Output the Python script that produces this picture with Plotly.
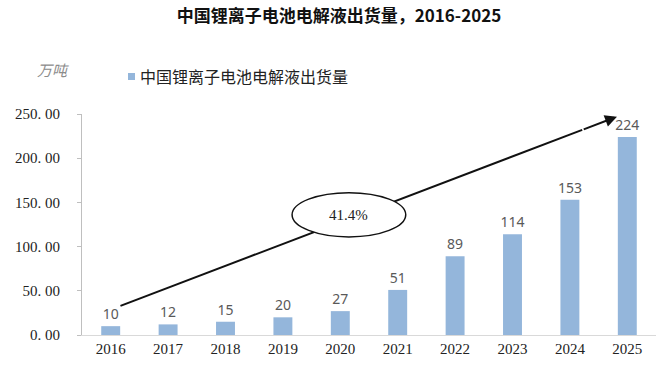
import plotly.graph_objects as go

years = ["2016", "2017", "2018", "2019", "2020", "2021", "2022", "2023", "2024", "2025"]
shipments = [10, 12, 15, 20, 27, 51, 89, 114, 153, 224]
series_name = "中国锂离子电池电解液出货量"
unit_label = "万吨"
title_text = "中国锂离子电池电解液出货量，2016-2025"
ytick_vals = [0, 50, 100, 150, 200, 250]
ytick_text = ["0. 00", "50. 00", "100. 00", "150. 00", "200. 00", "250. 00"]
cagr_text = "41.4%"

BAR_COLOR = "#94B6DB"

# figure geometry (page body margin removed via post_script)
W, H = 663, 365
ML, MR, MT, MB = 82, 7, 114, 30
PW, PH = W - ML - MR, H - MT - MB


def px_x(x):
    return (x - ML) / PW


def px_y(y):
    return (H - MB - y) / PH


fig = go.Figure()
fig.add_trace(go.Bar(
    x=years, y=shipments, name=series_name,
    marker=dict(color=BAR_COLOR, line=dict(width=0)),
    width=0.33,
    text=[str(v) for v in shipments], textposition="outside", constraintext="none",
    textfont=dict(family="Noto Sans, DejaVu Sans, sans-serif", size=14, color="#595959"),
    cliponaxis=False, showlegend=False,
))

fig.update_layout(
    width=W, height=H,
    margin=dict(l=ML, r=MR, t=MT, b=MB, autoexpand=False),
    paper_bgcolor="white", plot_bgcolor="white",
    showlegend=False,
    title=dict(text="<b>" + title_text + "</b>", x=339 / W, xref="container",
               xanchor="center", y=1 - 16.5 / H, yref="container", yanchor="middle",
               font=dict(family="Noto Sans CJK SC, sans-serif", size=17, color="#111111")),
)

fig.update_xaxes(
    type="category", showline=True, linecolor="#D9D9D9", linewidth=1,
    ticks="", showgrid=False, automargin=False,
    tickfont=dict(family="Liberation Serif, DejaVu Serif, serif", size=15, color="#222222"),
)
fig.update_yaxes(
    range=[0, 250], tickvals=ytick_vals, ticktext=ytick_text,
    showline=True, linecolor="#BFBFBF", linewidth=1,
    ticks="outside", ticklen=4, tickcolor="#BFBFBF",
    ticklabelstandoff=14,
    showgrid=False, zeroline=False, automargin=False,
    tickfont=dict(family="Liberation Serif, DejaVu Serif, serif", size=15, color="#222222"),
)

# unit label
fig.add_annotation(text="<i>" + unit_label + "</i>", xref="paper", yref="paper",
                   x=px_x(53), y=px_y(69), showarrow=False, xanchor="center", yanchor="middle",
                   font=dict(family="Noto Sans CJK SC, sans-serif", size=15, color="#8C8C8C"))

# legend (small square + text)
fig.add_shape(type="rect", xref="paper", yref="paper",
              x0=px_x(128), x1=px_x(135), y0=px_y(80), y1=px_y(73),
              fillcolor=BAR_COLOR, line=dict(width=0))
fig.add_annotation(text=series_name, xref="paper", yref="paper",
                   x=px_x(138), y=px_y(76), showarrow=False, xanchor="left", yanchor="middle",
                   font=dict(family="Noto Sans CJK SC, sans-serif", size=16, color="#222222"))

# growth arrow: shaft as a line shape, head as an annotation
x_start, y_start = 0.17, 33
x_end, y_end = 8.82, 247
t = 0.93
x_mid = x_start + (x_end - x_start) * t
y_mid = y_start + (y_end - y_start) * t
fig.add_shape(type="line", xref="x", yref="y", x0=x_start, y0=y_start, x1=x_mid, y1=y_mid,
              line=dict(color="#111111", width=2), layer="above")
fig.add_annotation(x=x_end, y=y_end, ax=x_mid, ay=y_mid, xref="x", yref="y", axref="x", ayref="y",
                   text="", showarrow=True, arrowhead=2, arrowsize=1.2, arrowwidth=2,
                   arrowcolor="#111111", standoff=0, startstandoff=0)

# ellipse with CAGR
fig.add_shape(type="circle", xref="x", yref="y", x0=3.16, x1=5.14, y0=111, y1=161,
              line=dict(color="#111111", width=1.5), fillcolor="white", layer="above")
fig.add_annotation(text=cagr_text, x=4.15, y=136, xref="x", yref="y", showarrow=False,
                   font=dict(family="Liberation Serif, DejaVu Serif, serif", size=15, color="#222222"))

fig.write_html("out.html", config={"displayModeBar": False},
               post_script="document.body.style.margin='0';document.body.style.overflow='hidden';")
